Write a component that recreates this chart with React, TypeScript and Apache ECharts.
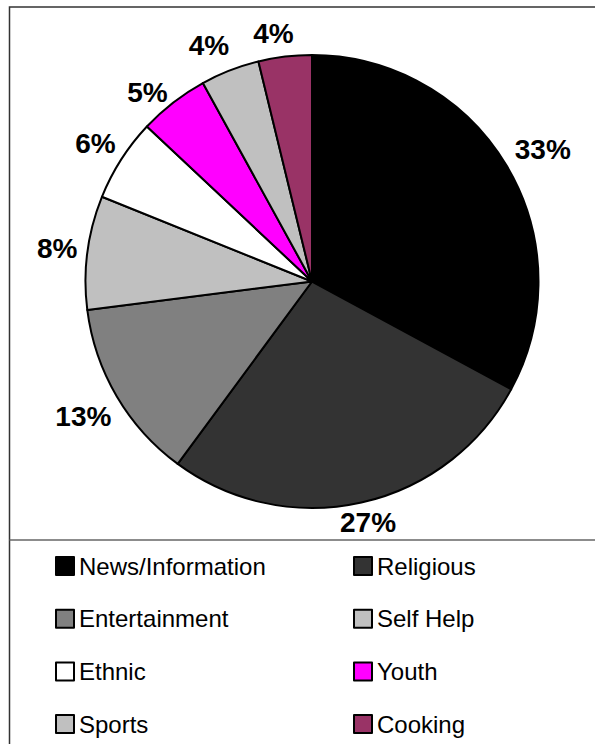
import React, { useEffect, useRef } from 'react';
import * as echarts from 'echarts';

const categories = ['News/Information', 'Religious', 'Entertainment', 'Self Help', 'Ethnic', 'Youth', 'Sports', 'Cooking'];
const shares = [32.9, 27.2, 12.9, 8.1, 5.9, 5.0, 4.2, 3.8];
const sliceColors = ['#000000', '#333333', '#808080', '#C0C0C0', '#FFFFFF', '#FF00FF', '#C0C0C0', '#993366'];
const legendLeftItems = ['News/Information', 'Entertainment', 'Ethnic', 'Sports'];
const legendRightItems = ['Religious', 'Self Help', 'Youth', 'Cooking'];

// label style nudges (style only) to mimic Excel's label placement: [left/right padding, vertical shift]
const labelNudge: Record<string, [number[], number]> = {
  'News/Information': [[0, 0, 0, 20], 0],
  Religious: [[0, 0, 0, 0], -10],
  Entertainment: [[0, 14, 0, 0], 5],
  Youth: [[0, 14, 0, 0], 14],
  Sports: [[0, 20, 0, 0], 4],
  Cooking: [[0, 16, 0, 0], 7],
};

const FONT = 'Arial, "Liberation Sans", sans-serif';

function labelFor(name: string) {
  const n = labelNudge[name];
  if (!n) return undefined;
  const [padding, dy] = n;
  let formatter = '{v|{d}%}';
  if (dy < 0) formatter = '{v|{d}%}\n{g| }';
  if (dy > 0) formatter = '{g| }\n{v|{d}%}';
  return {
    padding,
    formatter,
    rich: {
      v: { fontSize: 28, fontWeight: 'bold', fontFamily: FONT, color: '#000', lineHeight: 30 },
      g: { fontSize: 2, lineHeight: Math.abs(dy) * 2 },
    },
  };
}

export default function App() {
  const ref = useRef<HTMLDivElement>(null);
  useEffect(() => {
    if (!ref.current) return;
    const chart = echarts.init(ref.current, undefined, { renderer: 'svg' });
    const data = categories.map((name, i) => ({
      name,
      value: shares[i],
      itemStyle: { color: sliceColors[i] },
    }));
    const legendCommon = {
      orient: 'vertical' as const,
      top: 549,
      height: 195,
      itemWidth: 18,
      itemHeight: 18,
      itemGap: 28.7,
      icon: 'rect',
      selectedMode: false,
      textStyle: { fontSize: 24, fontFamily: FONT, color: '#000' },
    };
    chart.setOption({
      animation: false,
      backgroundColor: '#fff',
      legend: [
        { ...legendCommon, left: 50, data: legendLeftItems },
        { ...legendCommon, left: 348, data: legendRightItems },
      ],
      graphic: [
        {
          type: 'rect',
          shape: { x: 9.5, y: 7, width: 700, height: 800 },
          style: { fill: 'none', stroke: '#333', lineWidth: 1.5 },
          silent: true,
        },
        {
          type: 'line',
          shape: { x1: 9.5, y1: 540, x2: 600, y2: 540 },
          style: { stroke: '#666', lineWidth: 1.5 },
          silent: true,
        },
      ],
      series: [
        {
          type: 'pie',
          center: [312, 281.5],
          radius: 226.5,
          startAngle: 90,
          clockwise: true,
          percentPrecision: 0,
          label: { show: false },
          labelLine: { show: false },
          emphasis: { disabled: true },
          itemStyle: { borderColor: '#000', borderWidth: 2 },
          data,
        },
        {
          type: 'pie',
          center: [312, 281.5],
          radius: [236, 272],
          startAngle: 90,
          clockwise: true,
          silent: true,
          percentPrecision: 0,
          emphasis: { disabled: true },
          itemStyle: { color: 'transparent', borderWidth: 0 },
          label: {
            show: true,
            position: 'inside',
            formatter: '{d}%',
            fontSize: 28,
            fontWeight: 'bold',
            fontFamily: FONT,
            color: '#000',
            lineHeight: 30,
          },
          labelLine: { show: false },
          data: categories.map((name, i) => ({
            name,
            value: shares[i],
            label: labelFor(name),
          })),
        },
      ],
    });
    return () => chart.dispose();
  }, []);
  return <div ref={ref} style={{ position: 'absolute', left: 0, top: 0, width: 595, height: 744 }} />;
}
